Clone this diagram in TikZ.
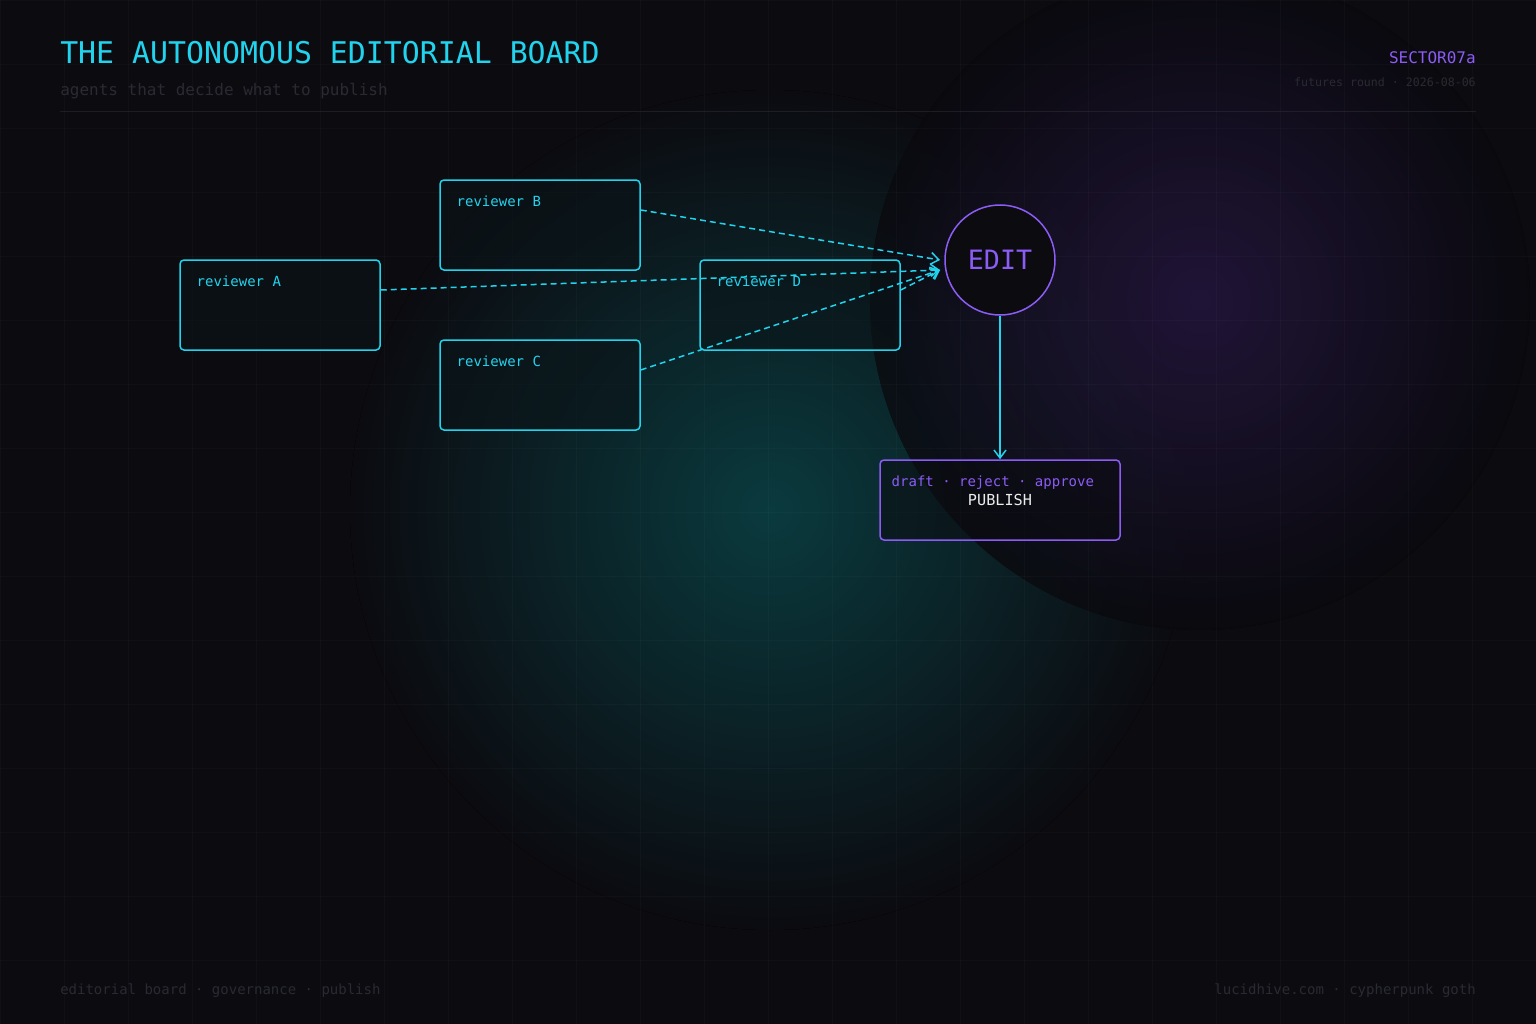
\documentclass[tikz,border=0pt]{standalone}
\usepackage{fontspec}
\setmonofont{DejaVu Sans Mono}
\usetikzlibrary{arrows.meta}
\definecolor{bg}{HTML}{0B0B10}
\definecolor{cyn}{HTML}{22D3EE}
\definecolor{vio}{HTML}{8B5CF6}
\definecolor{dim}{HTML}{2A2A33}
\definecolor{boxbg}{HTML}{0A1418}
\definecolor{tealg}{HTML}{0A3A3E}
\definecolor{purg}{HTML}{2A1A48}
\begin{document}
\begin{tikzpicture}[x=0.75pt,y=-0.75pt,font=\ttfamily,
  rev/.style={draw=cyn,line width=1.5pt*0.75,rounded corners=3pt,fill=boxbg,fill opacity=0.6,text opacity=1,minimum width=150pt,minimum height=67.5pt,inner sep=0pt},
  lab/.style={text=cyn,font=\ttfamily\fontsize{10.5}{12}\selectfont,anchor=north west},
  dconn/.style={cyn,line width=1.5pt*0.75,dash pattern=on 4.5pt off 3pt,-{Straight Barb[length=6pt,width=9pt]}}]
\fill[bg] (0,0) rectangle (1536,1024);
\useasboundingbox (0,0) rectangle (1536,1024);
\begin{scope}
\fill[inner color=tealg,outer color=bg] (770,510) circle (420);
\end{scope}
\begin{scope}[transparency group,opacity=0.8]
\fill[inner color=purg,outer color=bg,fill opacity=0.9] (1200,300) circle (330);
\end{scope}
\foreach \x in {0,64,...,1536} \draw[white,opacity=0.025,line width=0.5pt] (\x,0)--(\x,1024);
\foreach \y in {0,64,...,1024} \draw[white,opacity=0.025,line width=0.5pt] (0,\y)--(1536,\y);
% header
\node[anchor=base west,text=cyn,font=\ttfamily\fontsize{22.4}{26}\selectfont,inner sep=0] (title) at (60,64) {THE AUTONOMOUS EDITORIAL BOARD};
\node[anchor=base west,text=dim,font=\ttfamily\fontsize{12}{14}\selectfont,inner sep=0] (sub) at (60,96) {agents that decide what to publish};
\node[anchor=base east,text=vio,font=\ttfamily\fontsize{12}{14}\selectfont,inner sep=0] (sec) at (1476,64) {SECTOR07a};
\node[anchor=base east,text=dim,font=\ttfamily\fontsize{8.7}{10}\selectfont,inner sep=0] (fr) at (1476,87) {futures round · 2026-08-06};
\draw[dim,opacity=0.6,line width=0.75pt] (60,112)--(1476,112);
% boxes
\node[rev] (A) at (280,305) {};
\node[lab] at (192,271) {reviewer A};
\node[rev] (B) at (540,225) {};
\node[lab] at (452,191) {reviewer B};
\node[rev] (C) at (540,385) {};
\node[lab] at (452,351) {reviewer C};
\node[rev] (D) at (800,305) {};
\node[lab] at (712,271) {reviewer D};
\node[circle,draw=vio,fill=bg,line width=1.5pt*0.75,minimum size=82.5pt,inner sep=0,text=vio,font=\ttfamily\fontsize{20}{24}\selectfont] (E) at (1000,260) {EDIT};
\node[draw=vio,rounded corners=3pt,line width=1.5pt*0.75,fill=bg,fill opacity=0.5,minimum width=180pt,minimum height=60pt] (P) at (1000,500) {};
\node[anchor=north west,text=vio,font=\ttfamily\fontsize{10.5}{12}\selectfont] (pl) at (887,471) {draft · reject · approve};
\node[text=white!85!gray,font=\ttfamily\fontsize{11.4}{13}\selectfont] (pt) at (1000,500) {PUBLISH};
% connectors
\coordinate (Ea) at (940,270);
\coordinate (Eb) at (940,260);
\draw[dconn] (B.east |- 0,210) -- (Eb);
\draw[dconn] (A.east |- 0,290) -- (Ea);
\draw[dconn] (C.east |- 0,370) -- (Ea);
\draw[dconn] (D.east |- 0,290) -- (Ea);
\draw[cyn,line width=1.5pt*0.75,-{Straight Barb[length=6pt,width=9pt]}] (E) -- (P);
% footer
\node[anchor=base west,text=dim,font=\ttfamily\fontsize{10.5}{12}\selectfont,inner sep=0] (f1) at (60,994) {editorial board · governance · publish};
\node[anchor=base east,text=dim,font=\ttfamily\fontsize{10.5}{12}\selectfont,inner sep=0] (f2) at (1476,994) {lucidhive.com · cypherpunk goth};
\end{tikzpicture}
\end{document}
